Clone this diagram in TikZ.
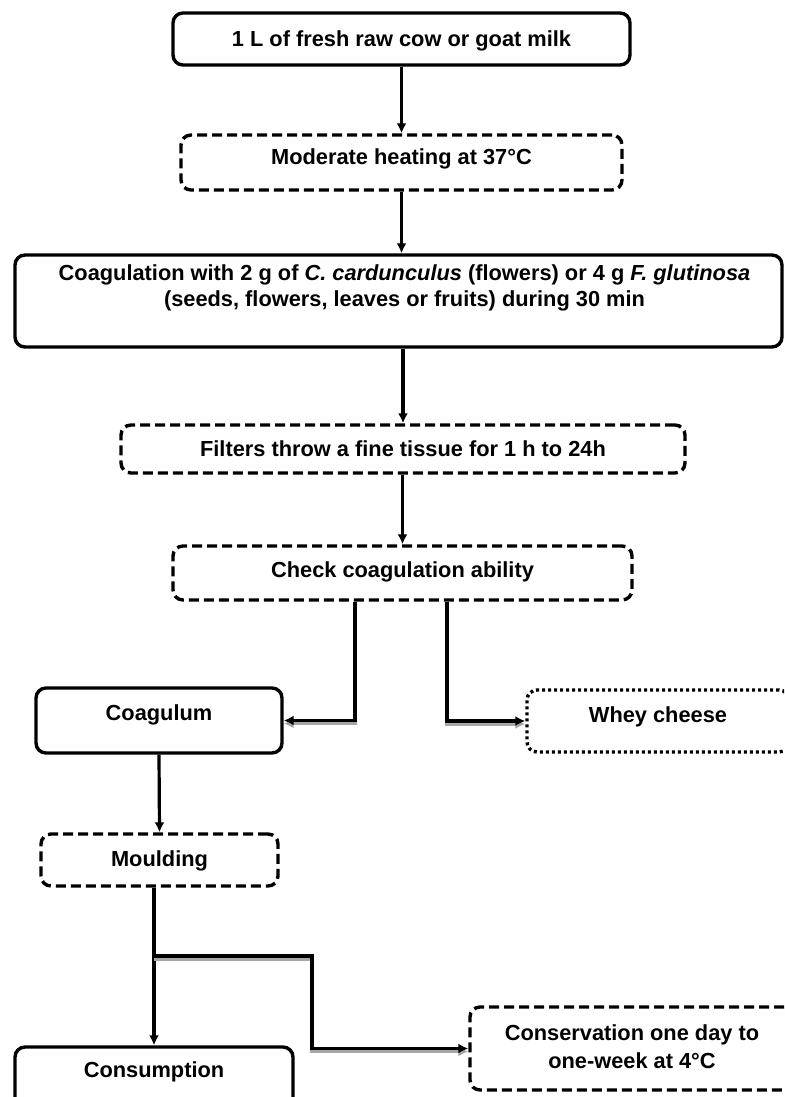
\documentclass[tikz,border=0pt]{standalone}
\usepackage{fontspec}
\setmainfont{Liberation Sans}
\usetikzlibrary{arrows.meta,calc}
\begin{document}
\begin{tikzpicture}[x=1pt,y=-1pt,
  every node/.style={font=\fontsize{21.8}{26}\selectfont\bfseries, align=center, inner sep=0pt},
  boxbase/.style={draw, line width=3.4pt, rounded corners=10pt, text height=16pt},
  solidbox/.style={boxbase},
  dashbox/.style={boxbase, dash pattern=on 10pt off 5pt},
  dotbox/.style={boxbase, dash pattern=on 3pt off 3pt},
  plaintext/.style={align=center},
  arr/.style={line width=3.2pt, -{Latex[length=10pt,width=10pt]}},
  shadowarr/.style={arr, preaction={draw=black!35, line width=3.2pt, transform canvas={yshift=-3pt}}}
]
\useasboundingbox (0,0) rectangle (784,1097);
\clip (0,0) rectangle (784,1097);

% boxes
\node[solidbox, minimum width=457pt, minimum height=52pt, text depth=1pt] (milk) at (401.5,39) {1 L of fresh raw cow or goat milk};
\node[dashbox, minimum width=441pt, minimum height=55pt, text depth=11.4pt] (heat) at (401.5,162.5) {Moderate heating at 37°C};
\node[solidbox, minimum width=767pt, minimum height=92pt] (coagbox) at (398.5,301) {};
\node[plaintext] (coagtext) at (404.5,287.5) {Coagulation with 2 g of \textit{C. cardunculus} (flowers) or 4 g \textit{F. glutinosa}\\(seeds, flowers, leaves or fruits) during 30 min};
\node[dashbox, minimum width=564pt, minimum height=48pt, text depth=2pt] (filt) at (403,449) {Filters throw a fine tissue for 1 h to 24h};
\node[dashbox, minimum width=459pt, minimum height=54pt, text depth=6.4pt] (check) at (402.5,573) {Check coagulation ability};
\node[solidbox, minimum width=246pt, minimum height=65pt, text depth=15.4pt] (coagulum) at (159,720.5) {Coagulum};
\node[dotbox, minimum width=262pt, minimum height=62pt, text depth=12.4pt] (whey) at (658,721) {Whey cheese};
\node[dashbox, minimum width=237pt, minimum height=52pt, text depth=3pt] (moulding) at (159.5,860) {Moulding};
\node[solidbox, minimum width=278pt, minimum height=65pt, text depth=19.4pt] (consumption) at (154,1079.5) {Consumption};
\node[dashbox, minimum width=324pt, minimum height=83pt] (consbox) at (632,1048.5) {};
\node[plaintext, font=\fontsize{21.8}{28}\selectfont\bfseries] (constext) at (632,1047) {Conservation one day to\\one-week at 4°C};

% connectors
\draw[arr] (milk.south) -- (heat.north);
\draw[arr] (heat.south) -- (heat.south |- coagbox.north);
\draw[arr] (coagbox.south -| filt.north) -- (filt.north);
\draw[arr] (check.north |- filt.south) -- (check.north);
\draw[shadowarr] ([xshift=-47.5pt]check.south) |- (coagulum.east);
\draw[shadowarr] ([xshift=44.5pt]check.south) |- (whey.west);
\draw[arr] (coagulum.south) -- (moulding.north);
\draw[arr] (moulding.south -| consumption.north) -- (consumption.north);
\coordinate (split) at (consumption.north |- 0,956);
\coordinate (bend) at (312,956);
\draw[shadowarr] (split) -- (bend) |- (consbox.west);
\end{tikzpicture}
\end{document}
